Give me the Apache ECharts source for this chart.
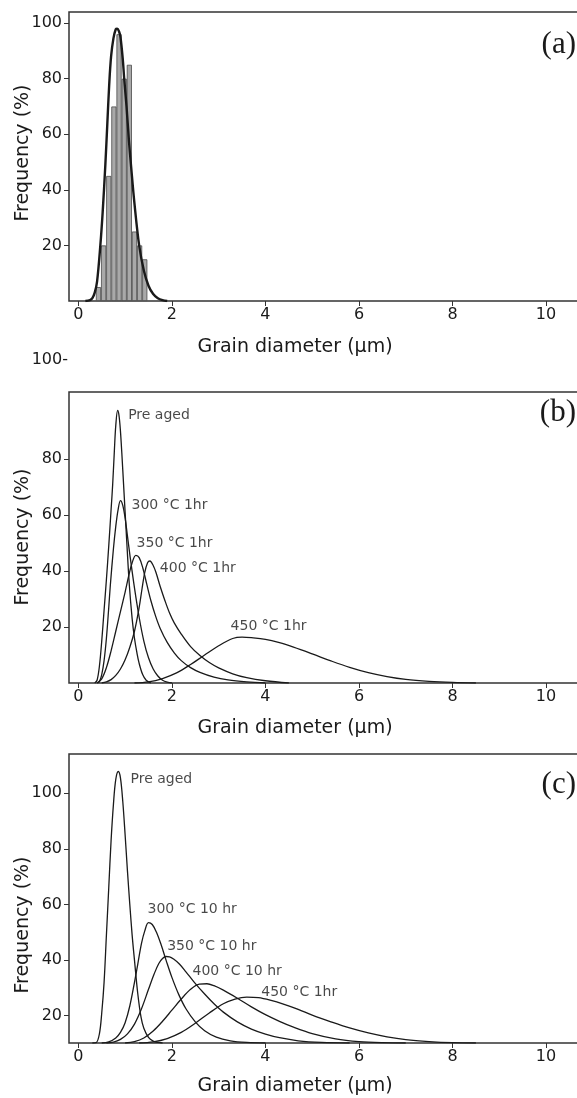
<!DOCTYPE html>
<html>
<head>
<meta charset="utf-8">
<script src="https://cdn.jsdelivr.net/npm/echarts@6/dist/echarts.min.js"></script>
<style>
html, body { margin: 0; padding: 0; background: #fff; }
#chart { width: 577px; height: 1098px; }
</style>
</head>
<body>
<div id="chart"></div>
<script>
// tick values
const xTicks = [0, 2, 4, 6, 8, 10];
const yTicksA = [20, 40, 60, 80, 100];
const yTicksB = [20, 40, 60, 80];
const yTicksC = [20, 40, 60, 80, 100];

// (a) histogram: bin centres (um) and frequency (%)
const histX = [0.43, 0.54, 0.65, 0.76, 0.87, 0.98, 1.09, 1.20, 1.31, 1.42];
const histY = [5, 20, 45, 70, 96, 80, 85, 25, 20, 15];
// (a) fitted curve
const fitA = [[0.15,0],[0.25,0.3],[0.3,1],[0.35,3],[0.4,7],[0.47,20],[0.52,32],[0.577,49],[0.62,64],[0.66,78],[0.7,88],[0.75,94.5],[0.8,97.8],[0.83,98],[0.87,97],[0.9,95],[0.95,87],[0.98,80],[1.03,70],[1.08,58],[1.13,48],[1.2,35],[1.3,20],[1.4,11],[1.5,5.5],[1.6,2.5],[1.7,1],[1.8,0.3],[1.9,0]];

// (b) 1 hr ageing
const preAgedB = [[0.35,0],[0.4,1],[0.45,6],[0.5,15],[0.55,26],[0.6,37],[0.65,49],[0.7,62],[0.734,71],[0.77,83],[0.8,92],[0.84,97.4],[0.87,95.5],[0.9,90],[0.93,82],[0.97,70],[1.03,52],[1.09,35],[1.15,23],[1.2,16],[1.25,11],[1.3,7],[1.375,3],[1.45,1],[1.55,0]];
const c300B = [[0.4,0],[0.45,0.5],[0.5,3],[0.55,8],[0.6,16],[0.65,27],[0.684,35],[0.75,48],[0.8,56],[0.85,62],[0.9,65.2],[0.95,63.5],[1.0,59],[1.05,52.5],[1.1,46],[1.2,34],[1.3,23.5],[1.4,15],[1.5,9],[1.6,5],[1.7,2.5],[1.8,1],[1.9,0.3],[2.0,0]];
const c350B = [[0.4,0],[0.5,1.5],[0.6,5.5],[0.7,11.5],[0.8,18.5],[0.9,25.5],[1.0,32.5],[1.08,38.5],[1.15,43],[1.23,45.6],[1.3,44.8],[1.38,41],[1.46,35.5],[1.55,29.5],[1.65,24],[1.75,19.5],[1.9,14.5],[2.05,10.8],[2.2,8],[2.4,5.5],[2.6,3.8],[2.9,2.1],[3.2,1.1],[3.6,0.4],[4.0,0]];
const c400B = [[0.5,0],[0.6,0.4],[0.7,1.2],[0.8,2.7],[0.9,5],[1.0,8.3],[1.1,12.8],[1.2,18.5],[1.3,27],[1.36,33.5],[1.42,39.5],[1.48,43],[1.53,43.6],[1.6,42],[1.66,39.5],[1.75,34.5],[1.85,29.5],[1.95,25],[2.05,21.5],[2.2,17.5],[2.4,13],[2.6,9.8],[2.8,7.3],[3.0,5.4],[3.3,3.3],[3.6,1.9],[4.0,0.8],[4.5,0]];
const c450B = [[1.2,0],[1.5,0.4],[1.8,1.6],[2.1,3.6],[2.4,6.6],[2.7,10],[3.0,13.3],[3.3,15.9],[3.5,16.4],[3.7,16.2],[4.0,15.6],[4.3,14.4],[4.6,12.8],[5.0,10.4],[5.4,7.9],[5.8,5.6],[6.2,3.7],[6.6,2.3],[7.0,1.3],[7.5,0.6],[8.0,0.2],[8.5,0]];
const labelsB = [
  [1.054, 95.6, 'Pre aged'],
  [1.126, 63.5, '300 °C 1hr'],
  [1.234, 49.9, '350 °C 1hr'],
  [1.732, 40.9, '400 °C 1hr'],
  [3.244, 20.3, '450 °C 1hr']
];

// (c) 10 hr ageing
const preAgedC = [[0.3,10.2],[0.38,10.3],[0.45,13.5],[0.5,21],[0.55,32],[0.6,49],[0.65,66],[0.7,83],[0.75,96],[0.8,105],[0.855,107.8],[0.9,105.5],[0.95,97],[1.0,85],[1.05,72],[1.1,60],[1.15,49],[1.2,40],[1.27,28],[1.34,19.5],[1.4,15.5],[1.5,12.2],[1.6,10.9],[1.7,10.4],[1.8,10.2]];
const c300C = [[0.5,10.2],[0.65,10.6],[0.8,12],[0.9,14],[1.0,17.5],[1.1,23.5],[1.2,32],[1.27,38.5],[1.35,46],[1.42,50.5],[1.5,53.5],[1.58,52.8],[1.67,50],[1.77,45.5],[1.875,40],[2.0,33.8],[2.15,27.5],[2.3,22.5],[2.5,17.8],[2.7,14.6],[2.95,12.3],[3.25,11],[3.6,10.4],[4.0,10.2]];
const c350C = [[0.6,10.2],[0.75,10.5],[0.9,11.5],[1.05,13.5],[1.2,17],[1.35,22.5],[1.5,29.5],[1.62,35],[1.72,38.8],[1.8,40.6],[1.875,41.3],[1.95,41.2],[2.05,40.2],[2.16,38.6],[2.3,35.8],[2.48,32],[2.7,27.8],[2.9,24.3],[3.1,21.3],[3.4,17.8],[3.7,15.2],[4.0,13.4],[4.3,12.1],[4.7,11],[5.2,10.4],[5.8,10.2]];
const c400C = [[1.0,10.2],[1.2,10.7],[1.4,12],[1.6,14.5],[1.8,18],[2.0,22],[2.2,26],[2.4,29.5],[2.587,31.4],[2.75,31.5],[2.9,30.8],[3.1,29.2],[3.4,26.3],[3.7,23.2],[4.0,20.4],[4.3,18],[4.6,15.9],[5.0,13.6],[5.5,11.7],[6.0,10.7],[6.5,10.3],[7.0,10.2]];
const c450C = [[1.3,10.2],[1.6,10.6],[1.9,11.8],[2.2,14],[2.5,17.3],[2.8,21],[3.1,24.3],[3.35,26],[3.6,26.7],[3.85,26.5],[4.1,25.6],[4.4,24.1],[4.7,22.3],[5.0,20.2],[5.4,17.8],[5.8,15.6],[6.2,13.8],[6.6,12.4],[7.0,11.4],[7.5,10.7],[8.0,10.3],[8.5,10.2]];
const labelsC = [
  [1.105, 105, 'Pre aged'],
  [1.469, 58.4, '300 °C 10 hr'],
  [1.888, 45, '350 °C 10 hr'],
  [2.43, 35.8, '400 °C 10 hr'],
  [3.9, 28.5, '450 °C 1hr']
];

const SANS = 'DejaVu Sans';
const INK = '#1a1a1a';
// the plot box runs past the right edge of the figure (cropped there)
const PX_PER_UNIT = 46.77;
const PLOT_W = 530;
const X_MIN = -0.2;
const X_MAX = X_MIN + PLOT_W / PX_PER_UNIT;

const chart = echarts.init(document.getElementById('chart'));

const grids = [
  { left: 69, top: 12, width: PLOT_W, height: 289 },
  { left: 69, top: 392, width: PLOT_W, height: 291 },
  { left: 69, top: 754, width: PLOT_W, height: 289 }
].map(g => Object.assign(g, {
  show: true, borderColor: '#333', borderWidth: 1.5, backgroundColor: '#fff',
  containLabel: false, outerBoundsMode: 'none'
}));

const makeX = (i) => ({
  type: 'value', gridIndex: i, min: X_MIN, max: X_MAX,
  axisLine: { show: false, onZero: false },
  splitLine: { show: false },
  axisTick: { show: true, inside: false, customValues: xTicks, length: 5, lineStyle: { color: '#333', width: 1 } },
  axisLabel: { customValues: xTicks, margin: 6, color: INK, fontFamily: SANS, fontSize: 16 }
});
const makeY = (i, min, max, ticks) => ({
  type: 'value', gridIndex: i, min: min, max: max,
  axisLine: { show: false, onZero: false },
  splitLine: { show: false },
  axisTick: { show: true, inside: false, customValues: ticks, length: 5, lineStyle: { color: '#333', width: 1 } },
  axisLabel: { customValues: ticks, margin: 7, color: INK, fontFamily: SANS, fontSize: 16 }
});

const curve = (data, i, width) => ({
  type: 'line', xAxisIndex: i, yAxisIndex: i, data: data,
  smooth: 0.35, showSymbol: false, silent: true,
  lineStyle: { color: INK, width: width || 1.3 }
});
const notes = (list, i) => ({
  type: 'scatter', xAxisIndex: i, yAxisIndex: i, silent: true,
  symbolSize: 1, itemStyle: { color: 'rgba(0,0,0,0)' },
  data: list.map(d => ({ value: [d[0], d[1]], name: d[2] })),
  label: { show: true, position: 'right', distance: 0, formatter: '{b}', color: INK, fontFamily: SANS, fontSize: 14 }
});

const text = (x, y, str, extra) => ({
  type: 'text', x: x, y: y, silent: true,
  style: Object.assign({ text: str, fill: INK, font: '19px "DejaVu Sans"', align: 'center', verticalAlign: 'middle' }, extra && extra.style),
  rotation: extra && extra.rotation || 0
});

chart.setOption({
  animation: false,
  backgroundColor: '#fff',
  grid: grids,
  xAxis: [makeX(0), makeX(1), makeX(2)],
  yAxis: [makeY(0, 0, 104, yTicksA), makeY(1, 0, 104, yTicksB), makeY(2, 10.2, 114.1, yTicksC)],
  series: [
    {
      type: 'bar', xAxisIndex: 0, yAxisIndex: 0, silent: true,
      data: histX.map((x, k) => [x, histY[k]]),
      barWidth: 0.11 * PX_PER_UNIT,
      itemStyle: { color: '#a9a9a9', borderColor: '#4a4a4a', borderWidth: 0.8 }
    },
    curve(fitA, 0, 2.4),
    curve(preAgedB, 1), curve(c300B, 1), curve(c350B, 1), curve(c400B, 1), curve(c450B, 1),
    notes(labelsB, 1),
    curve(preAgedC, 2), curve(c300C, 2), curve(c350C, 2), curve(c400C, 2), curve(c450C, 2),
    notes(labelsC, 2)
  ],
  graphic: [
    text(295, 347, 'Grain diameter (μm)'),
    text(295, 728, 'Grain diameter (μm)'),
    text(295, 1086, 'Grain diameter (μm)'),
    text(23, 153, 'Frequency (%)', { rotation: Math.PI / 2 }),
    text(23, 537, 'Frequency (%)', { rotation: Math.PI / 2 }),
    text(23, 925, 'Frequency (%)', { rotation: Math.PI / 2 }),
    text(576, 45, '(a)', { style: { font: '31px "Liberation Serif"', align: 'right' } }),
    text(576, 413, '(b)', { style: { font: '31px "Liberation Serif"', align: 'right' } }),
    text(576, 785, '(c)', { style: { font: '31px "Liberation Serif"', align: 'right' } }),
    text(68, 360, '100-', { style: { font: '16px "DejaVu Sans"', align: 'right' } })
  ]
});
</script>
</body>
</html>
